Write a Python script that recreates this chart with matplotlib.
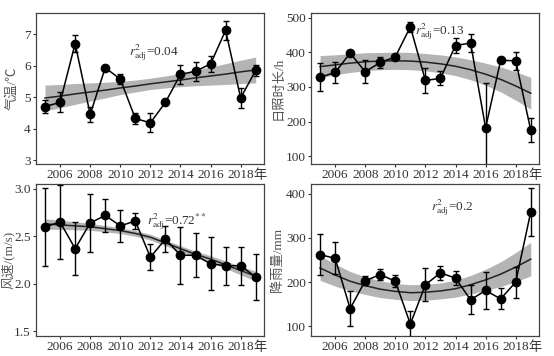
import matplotlib
matplotlib.use("Agg")
import matplotlib.pyplot as plt

plt.rcParams['font.family'] = ['Liberation Serif', 'Noto Sans CJK SC', 'DejaVu Sans']
plt.rcParams['mathtext.fontset'] = 'stix'

years = list(range(2005, 2020))

# 气温
temp = [4.70, 4.83, 6.70, 4.45, 5.93, 5.57, 4.32, 4.18, 4.83, 5.72, 5.82, 6.05, 7.12, 4.97, 5.85]
temp_err = [0.20, 0.32, 0.27, 0.25, 0.03, 0.17, 0.16, 0.30, 0.02, 0.31, 0.30, 0.24, 0.30, 0.31, 0.18]
temp_fit = [4.97, 5.03, 5.10, 5.16, 5.22, 5.29, 5.35, 5.42, 5.48, 5.54, 5.61, 5.67, 5.73, 5.80, 5.86]
temp_band = [0.41, 0.37, 0.33, 0.29, 0.25, 0.21, 0.19, 0.18, 0.19, 0.21, 0.25, 0.29, 0.33, 0.37, 0.41]

# 日照时长
sun = [328, 342, 398, 344, 371, 387, 474, 319, 325, 420, 427, 182, 377, 376, 175]
sun_err = [40, 31, 6, 33, 15, 2, 14, 36, 20, 22, 25, 129, 8, 26, 35]
sun_fit = [359, 364, 369, 373, 375, 376, 375, 372, 367, 360, 350, 337, 322, 303, 282]
sun_band = [32, 29, 27, 26, 25, 25, 25, 25, 26, 27, 29, 32, 36, 41, 46]

# 风速
wind = [2.60, 2.65, 2.37, 2.64, 2.72, 2.61, 2.66, 2.28, 2.47, 2.30, 2.30, 2.21, 2.19, 2.19, 2.07]
wind_err = [0.41, 0.39, 0.28, 0.31, 0.17, 0.17, 0.08, 0.14, 0.14, 0.30, 0.23, 0.28, 0.20, 0.20, 0.24]
wind_fit = [2.63, 2.62, 2.61, 2.60, 2.58, 2.56, 2.53, 2.49, 2.43, 2.37, 2.31, 2.26, 2.20, 2.14, 2.08]
wind_band = [0.055, 0.048, 0.042, 0.037, 0.033, 0.031, 0.030, 0.030, 0.030, 0.031, 0.033, 0.036, 0.040, 0.045, 0.052]

# 降雨量
rain = [262, 254, 140, 203, 217, 202, 105, 194, 221, 209, 160, 181, 162, 200, 359]
rain_err = [46, 36, 40, 10, 13, 13, 30, 37, 16, 16, 33, 43, 24, 35, 55]
rain_fit = [232, 216, 202, 192, 184, 179, 176, 177, 180, 185, 194, 205, 218, 234, 252]
rain_band = [28, 25, 22, 20, 19, 18, 18, 18, 18, 19, 21, 24, 28, 33, 38]

panels = [
    (temp, temp_err, temp_fit, temp_band, '气温/℃', (2.87, 7.67), [3, 4, 5, 6, 7], None,
     r'$r^2_{\mathrm{adj}}$=0.04', (2010.6, 6.42)),
    (sun, sun_err, sun_fit, sun_band, '日照时长/h', (77, 514), [100, 200, 300, 400, 500], None,
     r'$r^2_{\mathrm{adj}}$=0.13', (2011.3, 461)),
    (wind, wind_err, wind_fit, wind_band, '风速/(m/s)', (1.45, 3.05), [1.5, 2.0, 2.5, 3.0], '{:.1f}',
     r'$r^2_{\mathrm{adj}}$=0.72$^{**}$', (2011.8, 2.66)),
    (rain, rain_err, rain_fit, rain_band, '降雨量/mm', (78, 422), [100, 200, 300, 400], None,
     r'$r^2_{\mathrm{adj}}$=0.2', (2012.4, 369)),
]

fig = plt.figure(figsize=(5.54, 3.56), dpi=100)
boxes = [
    [0.065, 0.539, 0.4115, 0.4245],
    [0.5614, 0.539, 0.4116, 0.4245],
    [0.065, 0.0562, 0.4115, 0.4268],
    [0.5614, 0.0562, 0.4116, 0.4268],
]
label_x = [-0.075, -0.117, -0.095, -0.117]
xticks = [2006, 2008, 2010, 2012, 2014, 2016, 2018]

for box, lx, (vals, err, fit, band, ylab, ylim, yt, fmt, note, pos) in zip(boxes, label_x, panels):
    ax = fig.add_axes(box)
    lo = [f - b for f, b in zip(fit, band)]
    hi = [f + b for f, b in zip(fit, band)]
    ax.fill_between(years, lo, hi, color='#b4b4b4', linewidth=0, zorder=1)
    ax.plot(years, fit, color='#222222', lw=1.1, zorder=2)
    ax.errorbar(years, vals, yerr=err, color='black', lw=1.1, marker='o', ms=6,
                capsize=2.5, elinewidth=1.0, capthick=1.0, zorder=3)
    ax.set_xlim(2004.4, 2019.55)
    ax.set_ylim(*ylim)
    ax.set_yticks(yt)
    if fmt:
        ax.set_yticklabels([fmt.format(v) for v in yt])
    ax.set_xticks(xticks)
    ax.tick_params(labelsize=9.5, length=2.5, width=0.8, colors='#333333', pad=1.2)
    # "年" after the last tick label
    ax.annotate('年', xy=(2018, 0), xycoords=('data', 'axes fraction'),
                xytext=(9.2, -3.7), textcoords='offset points', ha='left', va='top',
                fontsize=9.5, color='#333333', annotation_clip=False)
    for s in ax.spines.values():
        s.set_color('#444444')
        s.set_linewidth(0.9)
    ax.set_ylabel(ylab, fontsize=9.5, color='#555555')
    ax.yaxis.set_label_coords(lx, 0.5)
    ax.text(pos[0], pos[1], note, fontsize=9.5, color='#333333', va='center', ha='left')

fig.savefig('out.png', dpi=100)
